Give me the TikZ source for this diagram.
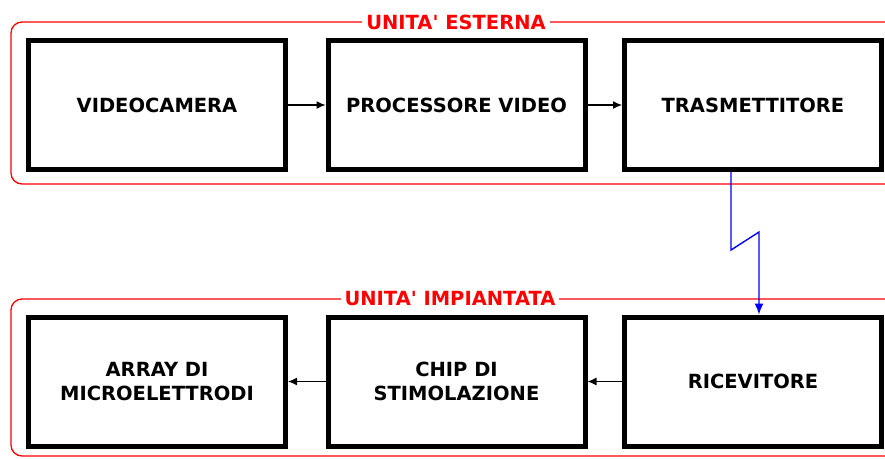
\documentclass[tikz,border=0pt]{standalone}
\usepackage{fontspec}
\setmainfont{DejaVu Sans}
\usepackage{xcolor}
\usetikzlibrary{arrows.meta}

\begin{document}
\begin{tikzpicture}[x=1pt,y=-1pt,>={Latex[length=9pt,width=8pt]},
  blk/.style={rectangle,draw,line width=5pt,minimum width=257pt,minimum height=129pt,align=center,font=\bfseries\fontsize{19.5}{24}\selectfont},
  unit/.style={red,line width=1.3pt,rounded corners=11pt},
  unitlbl/.style={fill=white,text=red,inner xsep=4pt,inner ysep=1pt,font=\bfseries\fontsize{19.5}{22}\selectfont},
  link/.style={->,line width=1.2pt},
  radio/.style={-{Latex[length=11pt,width=9pt]},blue,line width=1.4pt}]
  \useasboundingbox (0,0) rectangle (885,458);
  \begin{scope}
    \clip (0,0) rectangle (885,458);
    % frames of the two units
    \draw[unit] (11,22) rectangle (905,184);
    \draw[unit] (11,299) rectangle (905,456);
  \end{scope}
  \node[unitlbl] (est) at (456,22) {UNITA\textquotesingle{} ESTERNA};
  \node[unitlbl] (imp) at (450,299) {UNITA\textquotesingle{} IMPIANTATA};
  % upper row
  \node[blk] (cam) at (157,105) {VIDEOCAMERA};
  \node[blk] (proc) at (456.5,105) {PROCESSORE VIDEO};
  \node[blk] (tx) at (753,105) {TRASMETTITORE};
  % lower row
  \node[blk] (arr) at (157,381.5) {ARRAY DI\\MICROELETTRODI};
  \node[blk] (chip) at (456.5,381.5) {CHIP DI\\STIMOLAZIONE};
  \node[blk] (rx) at (753,381.5) {RICEVITORE};
  \draw[link] (cam) -- (proc);
  \draw[link] (proc) -- (tx);
  \draw[link] (rx) -- (chip);
  \draw[link] (chip) -- (arr);
  % radio link
  \coordinate (z1) at (731,250);
  \coordinate (z2) at (759,232);
  \draw[radio] (tx.south -| z1) -- (z1) -- (z2) -- (z2 |- rx.north);
\end{tikzpicture}
\end{document}
